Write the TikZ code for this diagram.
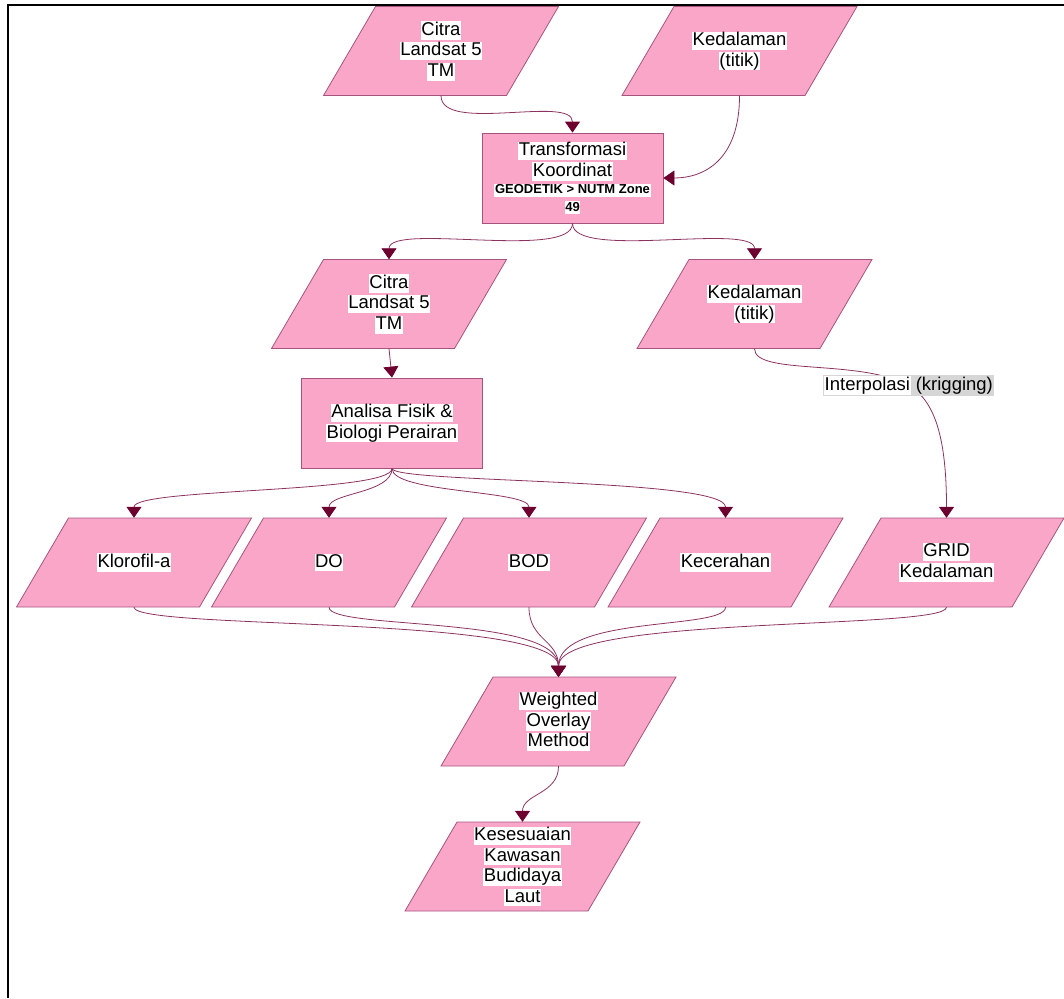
\documentclass[tikz,border=0pt]{standalone}
\usepackage{fontspec}
\setmainfont{Liberation Sans}
\usetikzlibrary{arrows.meta}
\definecolor{pfill}{RGB}{249,166,201}
\definecolor{pdraw}{RGB}{165,85,125}
\definecolor{edgec}{RGB}{140,50,95}
\definecolor{tipc}{RGB}{110,0,48}
\definecolor{lblgray}{RGB}{214,214,214}
\newcommand\wt[1]{{\setlength\fboxsep{0.6pt}\colorbox{white}{\vphantom{Ag}#1}}}
\newcommand\sbf{\fontsize{13}{18}\selectfont\bfseries}
\newcommand\pgram[4]{%
  \filldraw[pshape] (#2-117.5,#3+44.5) -- (#2+65.5,#3+44.5) -- (#2+117.5,#3-44.5) -- (#2-65.5,#3-44.5) -- cycle;
  \node[ptext] (#1) at (#2,#3) {#4};
}
\begin{document}
\begin{tikzpicture}[x=1pt,y=-1pt,
  pshape/.style={fill=pfill,draw=pdraw,line width=0.8pt},
  ptext/.style={minimum width=183pt,minimum height=89pt,inner sep=0pt,align=center,font=\fontsize{18.5}{20.5}\selectfont},
  procbox/.style={fill=pfill,draw=pdraw,line width=0.8pt,minimum width=181pt,minimum height=90pt,inner sep=0pt,align=center,font=\fontsize{18.5}{20.5}\selectfont},
  edge/.style={draw=edgec,line width=0.8pt,-{Triangle[length=11pt,width=15pt,color=tipc]}},
  lbl/.style={fill=lblgray,inner sep=1.2pt,font=\fontsize{18.5}{20}\selectfont}
]
\useasboundingbox (0,0) rectangle (1064,998);

% nodes
\pgram{ca}{441}{51}{\wt{Citra}\\\wt{Landsat 5}\\\wt{TM}}
\pgram{ka}{739.5}{51}{\wt{Kedalaman}\\\wt{(titik)}}
\node[procbox] (tr) at (572.5,178) {\wt{Transformasi}\\\wt{Koordinat}\\[-3pt]{\sbf\wt{GEODETIK > NUTM Zone}}\\[-3pt]{\sbf\wt{49}}};
\pgram{cb}{389}{304}{\wt{Citra}\\\wt{Landsat 5}\\\wt{TM}}
\pgram{kb}{754.5}{304}{\wt{Kedalaman}\\\wt{(titik)}}
\node[procbox] (an) at (392,423) {\wt{Analisa Fisik \&}\\\wt{Biologi Perairan}};
\pgram{kl}{134}{562.5}{\wt{Klorofil-a}}
\pgram{do}{329}{562.5}{\wt{DO}}
\pgram{bod}{529}{562.5}{\wt{BOD}}
\pgram{kc}{725.5}{562.5}{\wt{Kecerahan}}
\pgram{gr}{946.5}{562.5}{\wt{GRID}\\\wt{Kedalaman}}
\pgram{wo}{558.5}{721.5}{\wt{Weighted}\\\wt{Overlay}\\\wt{Method}}
\pgram{ks}{522.5}{866.5}{\wt{Kesesuaian}\\\wt{Kawasan}\\\wt{Budidaya}\\\wt{Laut}}

% connectors
\draw[edge] (ca.south) .. controls +(0,38) and +(0,-38) .. (tr.north);
\draw[edge] (ka.south) .. controls +(0,65) and +(40,0) .. (tr.east);
\draw[edge] (tr.south) .. controls +(0,37) and +(0,-37) .. (cb.north);
\draw[edge] (tr.south) .. controls +(0,37) and +(0,-37) .. (kb.north);
\draw[edge] (cb.south) -- (an.north);
\coordinate (ipc) at (908.5,385.5);
\draw[edge] (kb.south) .. controls +(0,27) and +(-48,-27) .. (ipc) .. controls +(27,15) and +(0,-78) .. (gr.north);
\node[lbl] (ip) at (ipc) {\wt{Interpolasi} (krigging)};
\draw[edge] (an.south) .. controls +(0,25) and +(0,-30) .. (kl.north);
\draw[edge] (an.south) .. controls +(0,25) and +(0,-25) .. (do.north);
\draw[edge] (an.south) .. controls +(0,25) and +(0,-28) .. (bod.north);
\draw[edge] (an.south) .. controls +(0,15) and +(0,-40) .. (kc.north);
\draw[edge] (kl.south) .. controls +(0,23) and +(0,-62) .. (wo.north);
\draw[edge] (do.south) .. controls +(0,23) and +(0,-62) .. (wo.north);
\draw[edge] (bod.south) .. controls +(0,33) and +(0,-37) .. (wo.north);
\draw[edge] (kc.south) .. controls +(0,23) and +(0,-62) .. (wo.north);
\draw[edge] (gr.south) .. controls +(0,23) and +(0,-62) .. (wo.north);
\draw[edge] (wo.south) .. controls +(0,28) and +(0,-28) .. (ks.north);

% frame
\draw[line width=2pt] (7,5) -- (1064,5);
\draw[line width=2pt] (8,5) -- (8,998);
\end{tikzpicture}
\end{document}
